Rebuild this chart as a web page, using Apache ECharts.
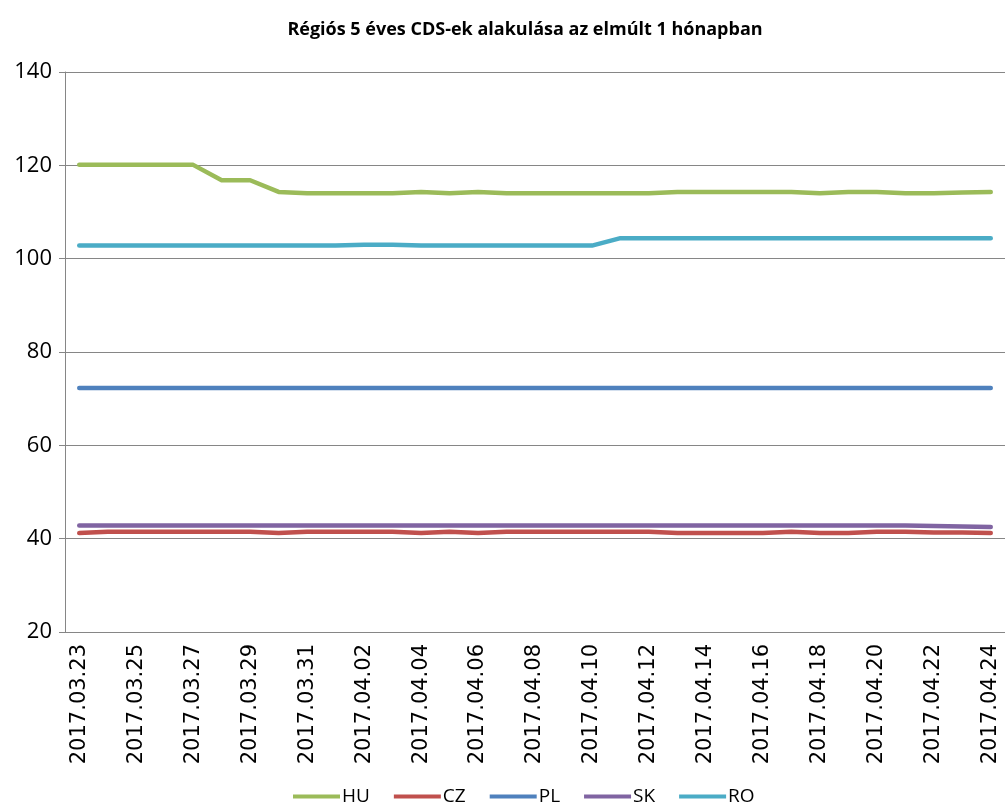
<!DOCTYPE html>
<html>
<head>
<meta charset="utf-8">
<script src="https://cdn.jsdelivr.net/npm/echarts@6/dist/echarts.min.js"></script>
<style>
  html, body { margin: 0; padding: 0; background: #fff; }
  #chart { width: 1005px; height: 805px; }
</style>
</head>
<body>
<div id="chart"></div>
<script>
// napok 2017.03.23 - 2017.04.24
const dates = [
  '2017.03.23', '2017.03.24', '2017.03.25', '2017.03.26', '2017.03.27', '2017.03.28',
  '2017.03.29', '2017.03.30', '2017.03.31', '2017.04.01', '2017.04.02', '2017.04.03',
  '2017.04.04', '2017.04.05', '2017.04.06', '2017.04.07', '2017.04.08', '2017.04.09',
  '2017.04.10', '2017.04.11', '2017.04.12', '2017.04.13', '2017.04.14', '2017.04.15',
  '2017.04.16', '2017.04.17', '2017.04.18', '2017.04.19', '2017.04.20', '2017.04.21',
  '2017.04.22', '2017.04.23', '2017.04.24'
]
const yTicks = [20, 40, 60, 80, 100, 120, 140]

const huValues = [120.1, 120.1, 120.1, 120.1, 120.1, 116.8, 116.8, 114.3, 114.0, 114.0, 114.0,
  114.0, 114.3, 114.0, 114.3, 114.0, 114.0, 114.0, 114.0, 114.0, 114.0, 114.3, 114.3,
  114.3, 114.3, 114.3, 114.0, 114.3, 114.3, 114.0, 114.0, 114.2, 114.3]
const czValues = [41.2, 41.5, 41.5, 41.5, 41.5, 41.5, 41.5, 41.2, 41.5, 41.5, 41.5,
  41.5, 41.2, 41.5, 41.2, 41.5, 41.5, 41.5, 41.5, 41.5, 41.5, 41.2, 41.2,
  41.2, 41.2, 41.5, 41.2, 41.2, 41.5, 41.5, 41.3, 41.3, 41.2]
const plValues = [72.3, 72.3, 72.3, 72.3, 72.3, 72.3, 72.3, 72.3, 72.3, 72.3, 72.3,
  72.3, 72.3, 72.3, 72.3, 72.3, 72.3, 72.3, 72.3, 72.3, 72.3, 72.3, 72.3,
  72.3, 72.3, 72.3, 72.3, 72.3, 72.3, 72.3, 72.3, 72.3, 72.3]
const skValues = [42.8, 42.8, 42.8, 42.8, 42.8, 42.8, 42.8, 42.8, 42.8, 42.8, 42.8,
  42.8, 42.8, 42.8, 42.8, 42.8, 42.8, 42.8, 42.8, 42.8, 42.8, 42.8, 42.8,
  42.8, 42.8, 42.8, 42.8, 42.8, 42.8, 42.8, 42.7, 42.6, 42.5]
const roValues = [102.8, 102.8, 102.8, 102.8, 102.8, 102.8, 102.8, 102.8, 102.8, 102.8, 103.0,
  103.0, 102.8, 102.8, 102.8, 102.8, 102.8, 102.8, 102.8, 104.4, 104.4, 104.4, 104.4,
  104.4, 104.4, 104.4, 104.4, 104.4, 104.4, 104.4, 104.4, 104.4, 104.4]

const seriesNames = ['HU', 'CZ', 'PL', 'SK', 'RO']
const seriesColors = ['#9BBB59', '#C0504D', '#4F81BD', '#8064A2', '#4BACC6']
const seriesData = [huValues, czValues, plValues, skValues, roValues]

const chart = echarts.init(document.getElementById('chart'))

const options = {
  animation: false,
  color: seriesColors,
  title: {
    text: 'Régiós 5 éves CDS-ek alakulása az elmúlt 1 hónapban',
    left: 520,
    textAlign: 'center',
    top: 16,
    textStyle: {
      fontFamily: 'Open Sans',
      fontSize: 18,
      fontWeight: 'bold',
      color: '#000'
    }
  },
  grid: {
    left: 65,
    right: -9,
    top: 72,
    bottom: 173,
    containLabel: false
  },
  legend: {
    bottom: -6,
    left: 288,
    icon: 'rect',
    itemWidth: 47,
    itemHeight: 4,
    itemGap: 24,
    textStyle: {
      fontFamily: 'Open Sans',
      fontSize: 19,
      color: '#000',
      padding: [0, 0, 0, -3]
    },
    data: seriesNames
  },
  xAxis: {
    type: 'category',
    data: dates,
    boundaryGap: true,
    axisLine: { lineStyle: { color: '#868686', width: 1 } },
    axisTick: {
      interval: 1,
      length: 7,
      lineStyle: { color: '#868686' }
    },
    axisLabel: {
      interval: 1,
      rotate: 90,
      margin: 12,
      fontFamily: 'DejaVu Sans',
      fontSize: 21,
      color: '#000'
    }
  },
  yAxis: {
    type: 'value',
    min: yTicks[0],
    max: yTicks[yTicks.length - 1],
    interval: 20,
    axisLine: { show: true, lineStyle: { color: '#868686' } },
    axisTick: { show: true, length: 6, lineStyle: { color: '#868686' } },
    axisLabel: {
      margin: 13,
      fontFamily: 'Open Sans',
      fontSize: 22,
      color: '#000'
    },
    splitLine: { lineStyle: { color: '#868686', width: 1 } }
  },
  series: seriesNames.map((name, i) => {
    return {
      name: name,
      type: 'line',
      data: seriesData[i],
      symbol: 'none',
      lineStyle: { width: 4.5, color: seriesColors[i], cap: 'round', join: 'round' }
    }
  })
}
chart.setOption(options)
</script>
</body>
</html>
